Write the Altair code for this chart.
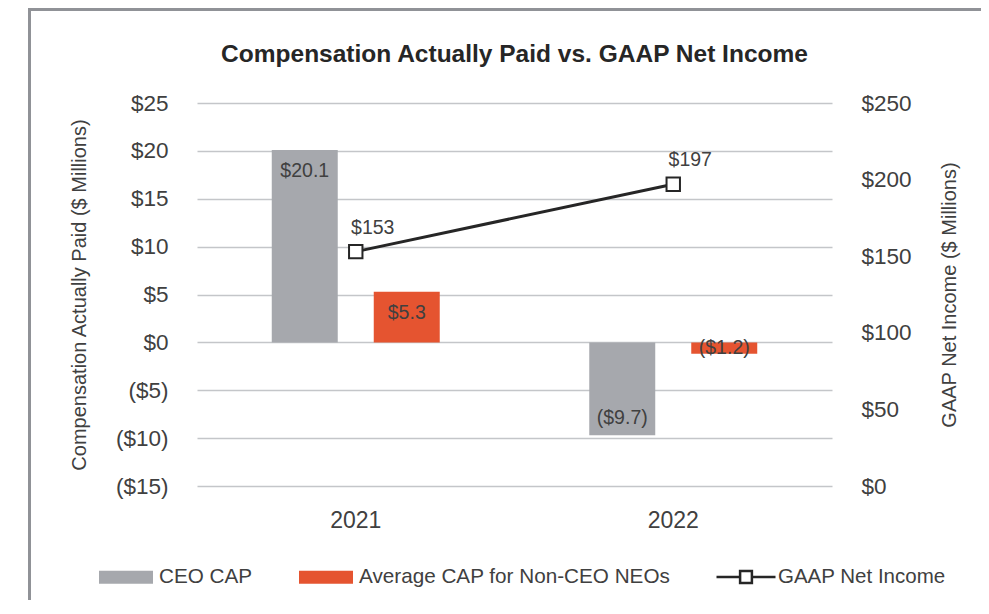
import altair as alt
import pandas as pd

# ---- data ----
years = ["2021", "2022"]
series_names = ["CEO CAP", "Average CAP for Non-CEO NEOs"]
ceo_cap = [20.1, -9.7]
neo_cap = [5.3, -1.2]
line_name = "GAAP Net Income"
net_income = [153, 197]
left_ticks = [-15, -10, -5, 0, 5, 10, 15, 20, 25]
right_ticks = [0, 50, 100, 150, 200, 250]

bars_df = pd.DataFrame({
    "year": years * 2,
    "series": [series_names[0]] * 2 + [series_names[1]] * 2,
    "value": ceo_cap + neo_cap,
})
line_df = pd.DataFrame({"year": years, "series": [line_name] * 2, "value": net_income})

# ---- style ----
W, H = 635, 383
FONT = "Liberation Sans"
GRAY = "#a6a8ad"
ORANGE = "#e55430"
LINE = "#262626"
TXT = "#404040"
GRID = "#c4c6c9"
FRAME = "#909297"

left_scale = alt.Scale(domain=[-15, 25], nice=False, zero=False)
right_scale = alt.Scale(domain=[0, 250], nice=False, zero=False)
off_scale = alt.Scale(paddingInner=0.353, paddingOuter=0.733)

x_enc = alt.X(
    "year:N", sort=years,
    scale=alt.Scale(paddingInner=0, paddingOuter=0),
    axis=alt.Axis(title=None, labelAngle=0, ticks=False, tickSize=0, domain=False,
                  grid=False, labelFontSize=23, labelPadding=23, labelColor=TXT),
)

frame = alt.Chart(pd.DataFrame({"k": [0]})).mark_rect(
    fillOpacity=0, stroke=FRAME, strokeWidth=3
).encode(
    x=alt.value(-167.5), x2=alt.value(W + 400),
    y=alt.value(-93.5), y2=alt.value(H + 400),
)

bars = alt.Chart(bars_df).mark_bar().encode(
    x=x_enc,
    xOffset=alt.XOffset("series:N", sort=series_names, scale=off_scale),
    y=alt.Y("value:Q", scale=left_scale,
            axis=alt.Axis(
                orient="left",
                values=left_ticks,
                labelExpr="datum.value < 0 ? '($' + abs(datum.value) + ')' : '$' + datum.value",
                title="Compensation Actually Paid ($ Millions)",
                titleFontSize=20, titleFontWeight="normal", titleColor=TXT, titlePadding=26,
                labelFontSize=22.5, labelColor=TXT, labelPadding=29,
                ticks=False, tickSize=0, domain=False,
                grid=True, gridColor=GRID, gridWidth=1.5,
            )),
    fill=alt.Fill("series:N", sort=series_names,
                  scale=alt.Scale(domain=series_names, range=[GRAY, ORANGE]),
                  legend=alt.Legend(
                      title=None, orient="none", legendX=-98, legendY=447,
                      direction="horizontal", padding=0,
                      symbolType="M-1,-0.24H1V0.24H-1Z", symbolSize=2916,
                      symbolStrokeWidth=0, labelFontSize=20.7, labelColor=TXT,
                      labelOffset=6, columnPadding=46, labelLimit=500,
                  )),
)

bar_text = alt.Chart(bars_df).transform_calculate(
    label_y="datum.value > 0 ? (datum.value > 3 ? datum.value - 2.2 : datum.value / 2) : (datum.value < -3 ? datum.value + 1.8 : datum.value / 2)",
    lbl="datum.value < 0 ? '($' + format(-datum.value, '.1f') + ')' : '$' + format(datum.value, '.1f')",
).mark_text(fontSize=19.5, color=TXT).encode(
    x=x_enc,
    xOffset=alt.XOffset("series:N", sort=series_names, scale=off_scale),
    y=alt.Y("label_y:Q", scale=left_scale, axis=None),
    text="lbl:N",
)

line = alt.Chart(line_df).mark_line(strokeWidth=3).encode(
    x=x_enc,
    y=alt.Y("value:Q", scale=right_scale,
            axis=alt.Axis(
                orient="right", values=right_ticks,
                labelExpr="'$' + datum.value",
                title="GAAP Net Income ($ Millions)", titleAngle=270,
                titleFontSize=20, titleFontWeight="normal", titleColor=TXT, titlePadding=48,
                labelFontSize=22.5, labelColor=TXT, labelPadding=29,
                ticks=False, tickSize=0, domain=False, grid=False,
            )),
    stroke=alt.Stroke("series:N",
                      scale=alt.Scale(domain=[line_name], range=[LINE]),
                      legend=alt.Legend(
                          title=None, orient="none", legendX=518, legendY=443,
                          direction="horizontal", padding=0,
                          symbolType="M-1,0H-0.2M0.2,0H1M-0.2,-0.2H0.2V0.2H-0.2Z",
                          symbolSize=3481, symbolStrokeWidth=2.5,
                          symbolFillColor="white",
                          labelFontSize=20.5, labelColor=TXT, labelOffset=1, labelLimit=500,
                      )),
)

points = alt.Chart(line_df).mark_point(
    shape="square", filled=True, fill="white", stroke=LINE, strokeWidth=2, size=180, opacity=1
).encode(x=x_enc, y=alt.Y("value:Q", scale=right_scale, axis=None))

line_text = alt.Chart(line_df).transform_calculate(
    lbl="'$' + datum.value"
).mark_text(fontSize=19.5, color=TXT, dx=17, dy=-24).encode(
    x=x_enc, y=alt.Y("value:Q", scale=right_scale, axis=None), text="lbl:N"
)

chart = alt.layer(frame, bars, bar_text, line, points, line_text).resolve_scale(
    y="independent"
).properties(
    width=W, height=H,
    title=alt.TitleParams(
        "Compensation Actually Paid vs. GAAP Net Income",
        fontSize=24.5, fontWeight="bold", color=LINE, anchor="middle",
        frame="group", baseline="alphabetic", offset=-78,
    ),
    autosize=alt.AutoSizeParams(type="none"),
    padding={"left": 189, "top": 95, "right": 149, "bottom": 114},
).configure(font=FONT).configure_view(stroke=None)

chart.save("out.html", embed_options={"renderer": "svg", "actions": False})
